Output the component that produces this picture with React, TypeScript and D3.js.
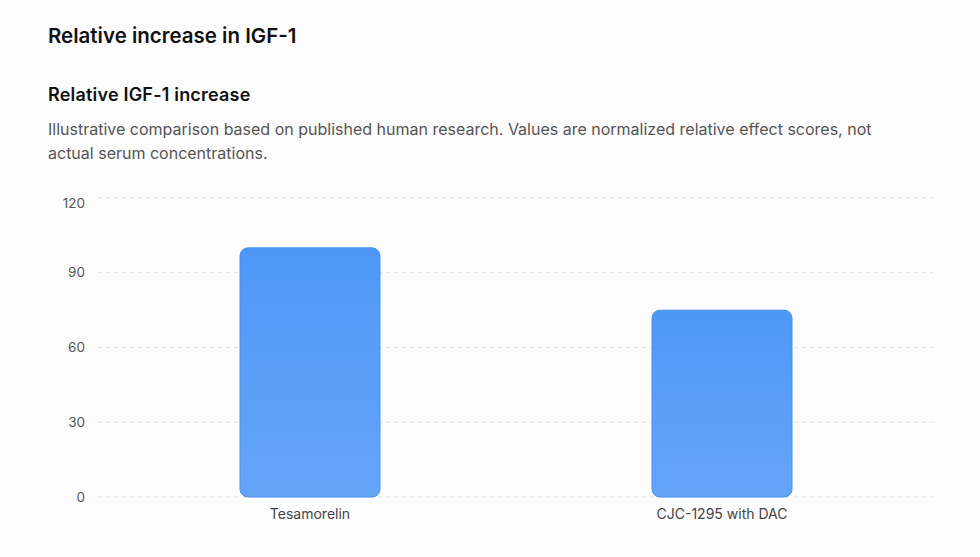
import { useEffect, useRef } from 'react';
import * as d3 from 'd3';

const categories = ["Tesamorelin", "CJC-1295 with DAC"];
const values = [100, 75];
const yTicks = [0, 30, 60, 90, 120];

const title = "Relative increase in IGF-1";
const subtitle = "Relative IGF-1 increase";
const descLines = [
  "Illustrative comparison based on published human research. Values are normalized relative effect scores, not",
  "actual serum concentrations.",
];

export default function App() {
  const svgRef = useRef<SVGSVGElement>(null);

  useEffect(() => {
    if (!svgRef.current) return;
    const svg = d3.select(svgRef.current);
    svg.selectAll("*").remove();

    const W = 980, H = 557;
    svg.attr("viewBox", `0 0 ${W} ${H}`).attr("width", W).attr("height", H);

    const font = "Inter, 'Noto Sans', sans-serif";

    svg.append("rect").attr("width", W).attr("height", H).attr("fill", "#fcfcfc");

    // gradient for bars
    const defs = svg.append("defs");
    const grad = defs.append("linearGradient")
      .attr("id", "barGrad").attr("x1", 0).attr("y1", 0).attr("x2", 0).attr("y2", 1);
    grad.append("stop").attr("offset", "0%").attr("stop-color", "#4f97f7");
    grad.append("stop").attr("offset", "100%").attr("stop-color", "#65a5f8");

    // headings
    svg.append("text").attr("x", 48).attr("y", 43)
      .style("font-family", font).style("font-size", "20.5px").style("font-weight", 600)
      .style("fill", "#111").text(title);

    svg.append("text").attr("x", 48).attr("y", 101)
      .style("font-family", font).style("font-size", "18px").style("font-weight", 600)
      .style("letter-spacing", "0.2px")
      .style("fill", "#111").text(subtitle);

    svg.append("g").selectAll("text").data(descLines).enter().append("text")
      .attr("x", 48).attr("y", (_, i) => 135 + i * 24)
      .style("font-family", font).style("font-size", "16px")
      .style("fill", "#555").text(d => d);

    // scales
    const y = d3.scaleLinear().domain([0, 120]).range([497, 198]);
    const x = d3.scalePoint<string>().domain(categories).range([104, 928]).padding(0.5);
    const barW = 140;

    // grid
    svg.append("g").selectAll("line").data(yTicks).enter().append("line")
      .attr("x1", 98).attr("x2", 933)
      .attr("y1", d => y(d)).attr("y2", d => y(d))
      .attr("stroke", "#dedede").attr("stroke-dasharray", "4,4");

    // y tick labels (top one sits a little below its line)
    svg.append("g").selectAll("text").data(yTicks).enter().append("text")
      .attr("x", 85).attr("y", d => y(d) + (d === 120 ? 5 : 0)).attr("dy", "0.35em")
      .attr("text-anchor", "end")
      .style("font-family", font).style("font-size", "13.5px").style("fill", "#555")
      .text(d => d);

    // bars
    svg.append("g").selectAll("rect").data(values).enter().append("rect")
      .attr("x", (_, i) => (x(categories[i]) ?? 0) - barW / 2)
      .attr("y", d => y(d))
      .attr("width", barW)
      .attr("height", d => y(0) - y(d))
      .attr("rx", 8).attr("ry", 8)
      .attr("fill", "url(#barGrad)")
      .attr("stroke", "#4a91f2").attr("stroke-width", 1);

    // x labels
    svg.append("g").selectAll("text").data(categories).enter().append("text")
      .attr("x", d => x(d) ?? 0).attr("y", 519)
      .attr("text-anchor", "middle")
      .style("font-family", font).style("font-size", "14px").style("fill", "#444")
      .text(d => d);
  }, []);

  return (
    <svg ref={svgRef} style={{ position: "absolute", left: 0, top: 0, display: "block" }} />
  );
}
